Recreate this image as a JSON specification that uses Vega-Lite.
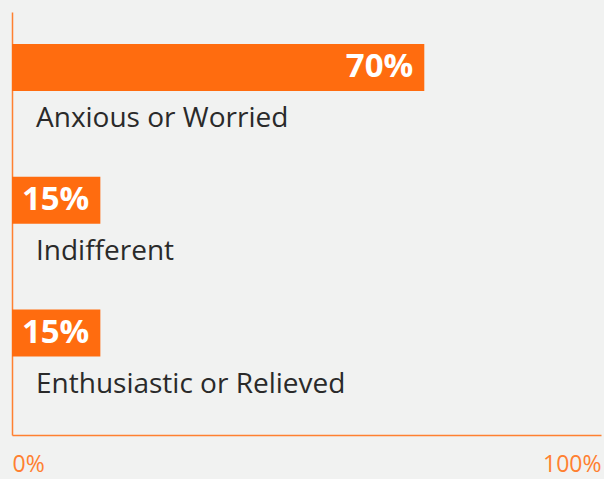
{
  "$schema": "https://vega.github.io/schema/vega-lite/v6.json",
  "width": 589,
  "height": 423,
  "autosize": "none",
  "padding": {"left": 12, "top": 12, "right": 3, "bottom": 44},
  "background": "#f1f2f1",
  "config": {"view": {"stroke": null}},
  "data": {
    "values": [
      {"feeling": "Anxious or Worried", "pct": 70, "label": "70%"},
      {"feeling": "Indifferent", "pct": 15, "label": "15%"},
      {"feeling": "Enthusiastic or Relieved", "pct": 15, "label": "15%"}
    ]
  },
  "encoding": {
    "y": {
      "field": "feeling",
      "type": "nominal",
      "sort": null,
      "scale": {"paddingInner": 0.646, "paddingOuter": 0.4162, "align": 0.2896},
      "axis": {"title": null, "labels": false, "ticks": false, "grid": false, "domainColor": "#ff8030", "domainWidth": 1.5}
    }
  },
  "layer": [
    {
      "mark": {"type": "bar", "color": "#ff6c0f"},
      "encoding": {
        "x": {
          "field": "pct",
          "type": "quantitative",
          "scale": {"domain": [0, 100]},
          "axis": {
            "title": null,
            "values": [0, 100],
            "labelExpr": "datum.value + '%'",
            "labelFlush": true,
            "ticks": false,
            "grid": false,
            "domainColor": "#ff8030",
            "domainWidth": 1.5,
            "labelColor": "#ff8030",
            "labelFontSize": 23,
            "labelFont": "Open Sans",
            "labelPadding": 18
          }
        }
      }
    },
    {
      "mark": {"type": "text", "align": "right", "baseline": "middle", "dx": -11, "color": "white", "fontWeight": "bold", "fontSize": 33, "font": "Open Sans"},
      "encoding": {
        "x": {"field": "pct", "type": "quantitative"},
        "text": {"field": "label"}
      }
    },
    {
      "mark": {"type": "text", "align": "left", "baseline": "alphabetic", "dx": 24, "dy": 60, "fontSize": 28, "font": "Open Sans", "color": "#2a2a2a"},
      "encoding": {
        "x": {"datum": 0},
        "text": {"field": "feeling"}
      }
    }
  ]
}
